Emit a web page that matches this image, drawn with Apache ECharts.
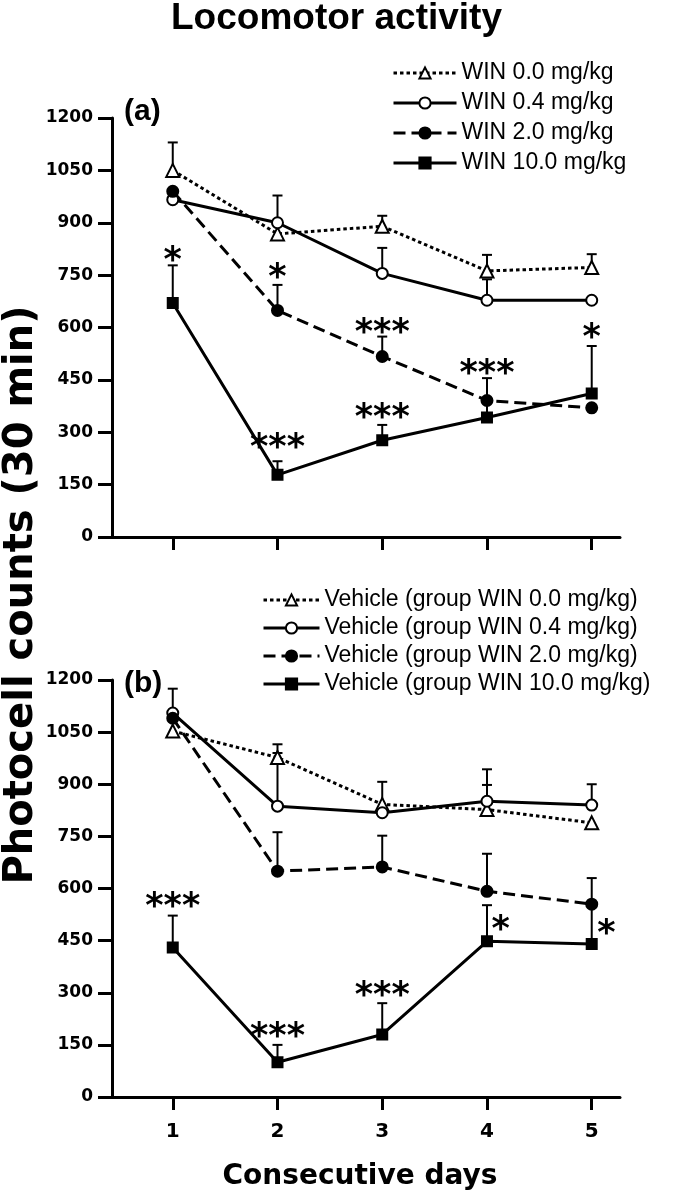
<!DOCTYPE html>
<html>
<head>
<meta charset="utf-8">
<script src="https://cdn.jsdelivr.net/npm/echarts/dist/echarts.min.js"></script>
<style>
html,body{margin:0;padding:0;background:#fff;}
#c{width:673px;height:1199px;}
</style>
</head>
<body>
<div id="c"></div>
<script>
// ---------- data ----------
const days = [1, 2, 3, 4, 5];
const yTickStep = 150;
const yMax = 1200;

const namesA = ['WIN 0.0 mg/kg', 'WIN 0.4 mg/kg', 'WIN 2.0 mg/kg', 'WIN 10.0 mg/kg'];
const namesB = ['Vehicle (group WIN 0.0 mg/kg)', 'Vehicle (group WIN 0.4 mg/kg)', 'Vehicle (group WIN 2.0 mg/kg)', 'Vehicle (group WIN 10.0 mg/kg)'];

// panel (a): means and upper error-bar ends
const aWin00    = [1050, 868, 890, 762, 772];
const aWin00Err = [1130, 868, 920, 808, 810];
const aWin04    = [966, 900, 755, 678, 678];
const aWin04Err = [966, 978, 828, 738, 678];
const aWin20    = [990, 649, 517, 391, 370];
const aWin20Err = [990, 722, 574, 455, 370];
const aWin100    = [670, 178, 277, 342, 411];
const aWin100Err = [778, 217, 321, 385, 547];

// panel (b)
const bVeh00    = [1053, 977, 842, 827, 789];
const bVeh00Err = [1053, 990, 842, 898, 789];
const bVeh04    = [1105, 837, 818, 851, 840];
const bVeh04Err = [1175, 1015, 907, 943, 900];
const bVeh20    = [1090, 650, 662, 592, 555];
const bVeh20Err = [1090, 762, 752, 700, 630];
const bVeh100    = [430, 100, 180, 448, 440];
const bVeh100Err = [522, 150, 270, 552, 552];

// significance marks: day, value, text
const starDayA  = [1, 2, 3, 4, 5, 2, 3];
const starValA  = [816, 769, 610, 492, 596, 281, 366];
const starTxtA  = ['*', '*', '***', '***', '*', '***', '***'];
const starDayB  = [1, 2, 3, 4.13, 5.14];
const starValB  = [572, 200, 318, 508, 495];
const starTxtB  = ['***', '***', '***', '*', '*'];

// ---------- styles ----------
const DOT = [3.5, 3];
const DASH = [12, 6];
const styles = [
  {symbol: 'triangle', size: 13, fill: '#fff', dash: DOT},
  {symbol: 'circle', size: 11, fill: '#fff', dash: 'solid'},
  {symbol: 'circle', size: 11, fill: '#000', dash: DASH},
  {symbol: 'rect', size: 10, fill: '#000', dash: 'solid'}
];

function lineSeries(name, vals, g, st) {
  return {
    type: 'line', name: name, xAxisIndex: g, yAxisIndex: g,
    data: days.map((d, i) => [d, vals[i]]),
    symbol: st.symbol, symbolSize: st.size, showSymbol: true,
    itemStyle: {color: st.fill, borderColor: '#000', borderWidth: 2},
    lineStyle: {color: '#000', width: 3, type: st.dash},
    z: 3, animation: false, silent: true
  };
}
function errSeries(vals, errs, g) {
  return {
    type: 'custom', xAxisIndex: g, yAxisIndex: g,
    data: days.map((d, i) => [d, vals[i], errs[i]]),
    encode: {x: 0, y: [1, 2]},
    renderItem: function (params, api) {
      const x = api.value(0), v = api.value(1), e = api.value(2);
      if (!(e > v)) return null;
      const p0 = api.coord([x, v]), p1 = api.coord([x, e]);
      return {type: 'group', children: [
        {type: 'line', shape: {x1: p0[0], y1: p0[1], x2: p1[0], y2: p1[1]}, style: {stroke: '#000', lineWidth: 2}},
        {type: 'line', shape: {x1: p1[0] - 5, y1: p1[1], x2: p1[0] + 5, y2: p1[1]}, style: {stroke: '#000', lineWidth: 2}}
      ]};
    },
    z: 2, silent: true, animation: false
  };
}
function starSeries(ds, vs, ts, g) {
  return {
    type: 'scatter', xAxisIndex: g, yAxisIndex: g, symbolSize: 1,
    itemStyle: {opacity: 0},
    data: ds.map((d, i) => ({value: [d, vs[i]], name: ts[i]})),
    label: {show: true, position: 'inside', formatter: '{b}', offset: [0, 10], opacity: 1,
      fontFamily: 'DejaVu Sans', fontWeight: 'bold', fontSize: 35, color: '#000'},
    z: 4, silent: true, animation: false
  };
}

const grids = [
  {left: 112, right: 53, top: 118, height: 419},
  {left: 112, right: 53, top: 680, height: 417}
];
function xAx(g, showLabels) {
  return {
    type: 'value', gridIndex: g, min: 0.42, max: 5.27,
    axisLine: {show: true, lineStyle: {color: '#000', width: 3}},
    axisTick: {show: true, inside: false, length: 13, lineStyle: {color: '#000', width: 3}, customValues: days},
    axisLabel: {show: showLabels, customValues: days, margin: 25, color: '#000',
      fontFamily: 'DejaVu Sans', fontWeight: 'bold', fontSize: 20},
    splitLine: {show: false}
  };
}
function yAx(g) {
  return {
    type: 'value', gridIndex: g, min: 0, max: yMax, interval: yTickStep,
    axisLine: {show: true, lineStyle: {color: '#000', width: 3}},
    axisTick: {show: true, inside: false, length: 14, lineStyle: {color: '#000', width: 3}},
    axisLabel: {margin: 19, color: '#000', fontFamily: 'DejaVu Sans', fontWeight: 'bold', fontSize: 17,
      formatter: function (v) { return String(v); }},
    splitLine: {show: false}
  };
}
function legend(names, left, top, w, gap) {
  return {
    data: names, orient: 'vertical', left: left, top: top, padding: 0,
    itemWidth: w, itemHeight: 14, itemGap: gap, selectedMode: false,
    lineStyle: {width: 3},
    textStyle: {fontFamily: 'Liberation Sans', fontSize: 23, color: '#000', lineHeight: 24}
  };
}

const seriesA = [aWin00, aWin04, aWin20, aWin100];
const errA = [aWin00Err, aWin04Err, aWin20Err, aWin100Err];
const seriesB = [bVeh00, bVeh04, bVeh20, bVeh100];
const errB = [bVeh00Err, bVeh04Err, bVeh20Err, bVeh100Err];

const series = [];
for (let i = 0; i < 4; i++) series.push(errSeries(seriesA[i], errA[i], 0));
for (let i = 0; i < 4; i++) series.push(errSeries(seriesB[i], errB[i], 1));
for (let i = 0; i < 4; i++) series.push(lineSeries(namesA[i], seriesA[i], 0, styles[i]));
for (let i = 0; i < 4; i++) series.push(lineSeries(namesB[i], seriesB[i], 1, styles[i]));
series.push(starSeries(starDayA, starValA, starTxtA, 0));
series.push(starSeries(starDayB, starValB, starTxtB, 1));

const chart = echarts.init(document.getElementById('c'), null, {renderer: 'canvas'});
chart.setOption({
  backgroundColor: '#fff',
  animation: false,
  grid: grids,
  xAxis: [xAx(0, false), xAx(1, true)],
  yAxis: [yAx(0), yAx(1)],
  legend: [legend(namesA, 392, 61, 63, 6), legend(namesB, 262, 588, 56, 4)],
  series: series,
  graphic: [
    {type: 'text', left: 'center', top: 0, style: {text: 'Locomotor activity', fill: '#000',
      font: 'bold 37px "Liberation Sans"'}},
    {type: 'text', x: 124, y: 112, style: {text: '(a)', fill: '#000', font: 'bold 30px "Liberation Sans"',
      textAlign: 'left', textVerticalAlign: 'middle'}},
    {type: 'text', x: 124, y: 684, style: {text: '(b)', fill: '#000', font: 'bold 30px "Liberation Sans"',
      textAlign: 'left', textVerticalAlign: 'middle'}},
    {type: 'text', x: 22, y: 595, rotation: Math.PI / 2, style: {text: 'Photocell counts (30 min)', fill: '#000',
      font: 'bold 40px "DejaVu Sans"', textAlign: 'center', textVerticalAlign: 'middle'}},
    {type: 'text', x: 360, y: 1177, style: {text: 'Consecutive days', fill: '#000',
      font: 'bold 28px "DejaVu Sans"', textAlign: 'center', textVerticalAlign: 'middle'}}
  ]
});
</script>
</body>
</html>
